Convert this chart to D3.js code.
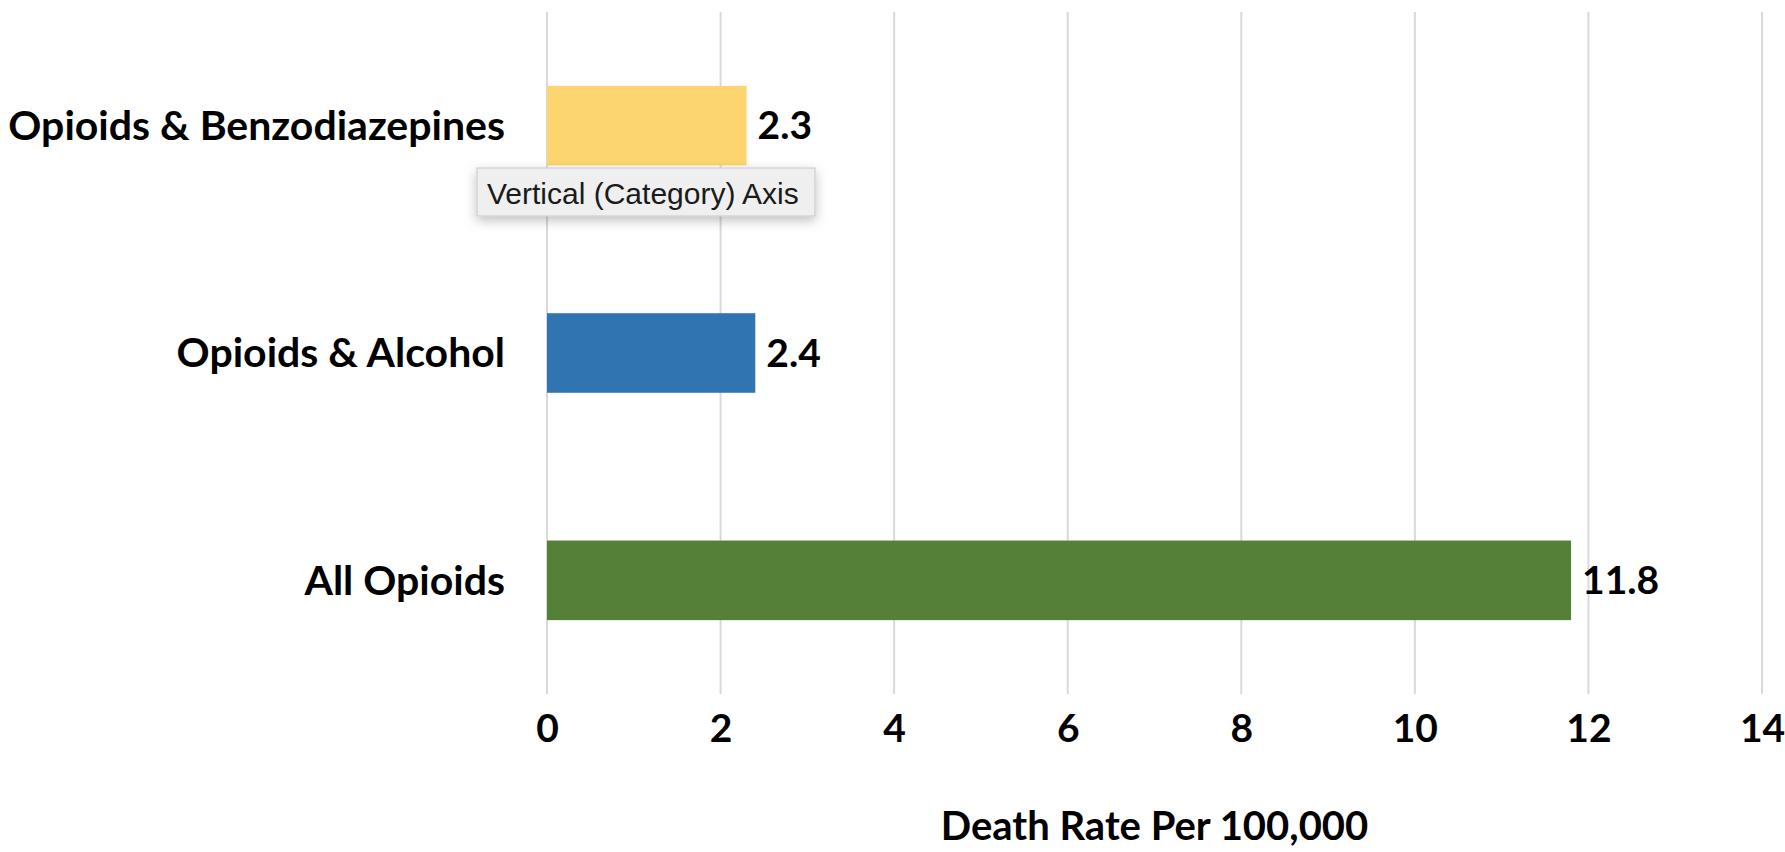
<!DOCTYPE html>
<html>
<head>
<meta charset="utf-8">
<script src="https://cdn.jsdelivr.net/npm/d3@7"></script>
<style>
  body { margin: 0; background: #fff; }
  text { font-family: Lato, "Open Sans", sans-serif; font-weight: bold; fill: #000; }
</style>
</head>
<body>
<div id="chart"></div>
<script>
// chart data
const categories = ['Opioids & Benzodiazepines', 'Opioids & Alcohol', 'All Opioids'];
const deathRates = [2.3, 2.4, 11.8];
const barColors = ['#fdd570', '#3174b2', '#548137'];
const xTicks = [0, 2, 4, 6, 8, 10, 12, 14];
const xTitle = 'Death Rate Per 100,000';
const tooltipText = 'Vertical (Category) Axis';

const width = 1785;
const height = 852;
const margin = { top: 12, right: 23, bottom: 158, left: 547 };
const plotW = width - margin.left - margin.right;
const plotH = height - margin.top - margin.bottom;

const svg = d3.select('#chart')
  .append('svg')
  .attr('width', width)
  .attr('height', height);

const defs = svg.append('defs');
const shadow = defs.append('filter').attr('id', 'shadow')
  .attr('x', '-20%').attr('y', '-40%').attr('width', '140%').attr('height', '200%');
shadow.append('feDropShadow')
  .attr('dx', 0).attr('dy', 4).attr('stdDeviation', 6)
  .attr('flood-color', '#000').attr('flood-opacity', 0.25);

const g = svg.append('g')
  .attr('transform', 'translate(' + margin.left + ',' + margin.top + ')');

// scales
const x = d3.scaleLinear()
  .domain([0, 14])
  .range([0, plotW]);

const y = d3.scaleBand()
  .domain(categories)
  .range([0, plotH])
  .paddingInner(0.65)
  .paddingOuter(0.325);

// vertical grid lines
g.selectAll('.grid')
  .data(xTicks)
  .enter().append('line')
  .attr('class', 'grid')
  .attr('x1', (d) => x(d))
  .attr('x2', (d) => x(d))
  .attr('y1', 0)
  .attr('y2', plotH)
  .attr('stroke', '#d9d9d9')
  .attr('stroke-width', 2);

// x axis tick labels
const xAxis = g.append('g')
  .attr('transform', 'translate(0,' + (plotH + 20) + ')')
  .call(d3.axisBottom(x).tickValues(xTicks).tickSize(0).tickPadding(0));
xAxis.select('.domain').remove();
xAxis.attr('font-family', null).attr('font-size', null);
xAxis.selectAll('text')
  .attr('font-size', 39);

// axis title
g.append('text')
  .attr('x', plotW / 2)
  .attr('y', plotH + 146)
  .attr('text-anchor', 'middle')
  .attr('font-size', 40)
  .text(xTitle);

// category labels
const yAxis = g.append('g')
  .attr('transform', 'translate(-42,0)')
  .call(d3.axisLeft(y).tickSize(0).tickPadding(0));
yAxis.select('.domain').remove();
yAxis.attr('font-family', null).attr('font-size', null);
yAxis.selectAll('text')
  .attr('font-size', 41)
  .attr('dy', '0.35em');

// bars
g.selectAll('.bar')
  .data(deathRates)
  .enter().append('rect')
  .attr('class', 'bar')
  .attr('x', x(0))
  .attr('y', (d, i) => y(categories[i]))
  .attr('width', (d) => x(d) - x(0))
  .attr('height', y.bandwidth())
  .attr('fill', (d, i) => barColors[i]);

// value labels
g.selectAll('.value')
  .data(deathRates)
  .enter().append('text')
  .attr('class', 'value')
  .attr('x', (d) => x(d) + 11)
  .attr('y', (d, i) => y(categories[i]) + y.bandwidth() / 2)
  .attr('dy', '0.35em')
  .attr('font-size', 39)
  .text((d) => d.toFixed(1));

// hover tooltip box seen in the picture
const tip = svg.append('g')
  .attr('transform', 'translate(477,168)');
tip.append('rect')
  .attr('width', 338)
  .attr('height', 48)
  .attr('fill', '#efefef')
  .attr('stroke', '#c8c8c8')
  .attr('stroke-width', 1)
  .attr('filter', 'url(#shadow)');
tip.append('text')
  .attr('x', 10)
  .attr('y', 25)
  .attr('dy', '0.35em')
  .attr('font-size', 30)
  .style('font-family', '"Liberation Sans", Arial, sans-serif')
  .style('font-weight', 'normal')
  .style('fill', '#1a1a1a')
  .text(tooltipText);
</script>
</body>
</html>
